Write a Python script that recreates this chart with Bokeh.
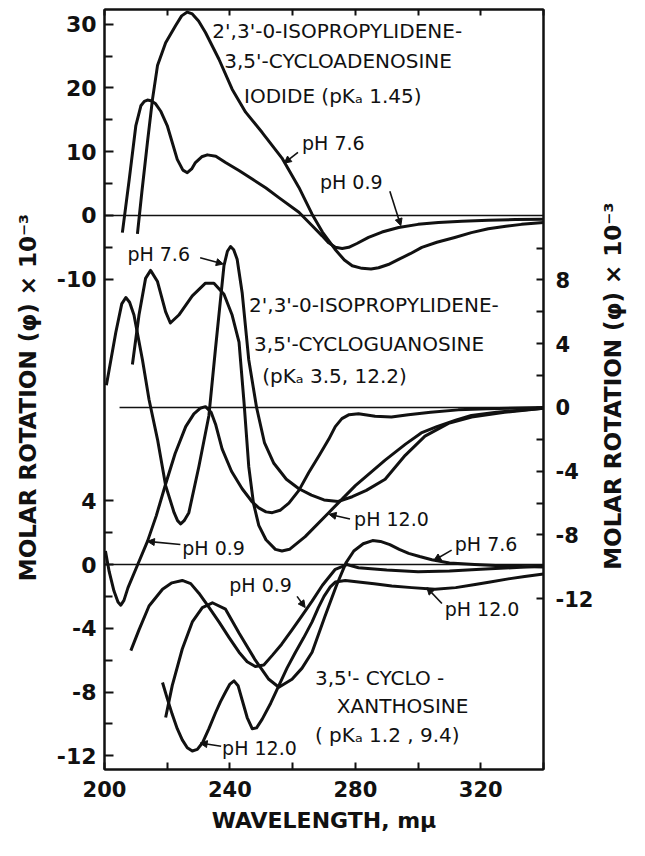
import math
from bokeh.plotting import figure
from bokeh.layouts import row
from bokeh.models import Range1d, LinearAxis, FixedTicker, Label, Arrow, NormalHead
from bokeh.embed import file_html
from bokeh.resources import INLINE

# ---------------- data (wavelength in m-mu, molar rotation x 1e-3) ----------------
# Top panel: 2',3'-O-isopropylidene-3,5'-cycloadenosine iodide
top_wl_76 = [210.5, 211.9, 213.7, 215.3, 216.9, 219.5, 222.7, 224.6, 226.4, 228.0, 230.0, 232.2, 236.5,
             240.7, 245.0, 250.3, 256.6, 262.0, 266.2, 269.5, 273.5, 276.5, 279.0, 282.1, 285.0, 287.4,
             290.5, 293.8, 297.5, 301.2, 306.0, 311.7, 317.0, 322.4, 328.0, 333.0, 340.0]
top_rot_76 = [-2.9, 3.6, 11.5, 18.2, 23.5, 27.1, 29.8, 31.3, 31.9, 31.6, 30.5, 28.7, 24.5,
              19.8, 16.2, 13.0, 9.0, 4.4, 0.2, -2.6, -5.3, -7.0, -7.9, -8.3, -8.4, -8.2,
              -7.7, -6.9, -6.0, -5.0, -4.2, -3.45, -2.7, -2.1, -1.7, -1.4, -1.1]
top_wl_09 = [205.7, 207.9, 210.0, 211.6, 212.7, 213.7, 214.8, 216.3, 218.0, 220.0, 223.2, 225.0, 226.4,
             227.8, 229.0, 231.0, 232.8, 235.5, 238.6, 243.0, 247.1, 251.5, 255.6, 262.0, 266.0, 269.4,
             271.5, 273.6, 275.8, 277.9, 280.5, 284.2, 288.5, 293.8, 300.0, 306.5, 314.0, 322.4, 331.0,
             340.0]
top_rot_09 = [-2.7, 5.7, 14.1, 17.2, 17.9, 18.1, 18.0, 17.5, 16.3, 14.1, 8.8, 7.1, 6.7,
              7.3, 8.3, 9.2, 9.5, 9.3, 8.3, 7.0, 5.7, 4.3, 2.8, 0.5, -1.5, -3.2,
              -4.3, -5.0, -5.2, -5.0, -4.4, -3.45, -2.6, -1.9, -1.4, -1.1, -0.9, -0.75, -0.65,
              -0.6]

# Middle panel: 2',3'-O-isopropylidene-3,5'-cycloguanosine
mid_wl_76 = [200.6, 203.6, 205.5, 206.8, 208.0, 209.4, 212.1, 214.2, 216.9, 219.5, 222.2, 223.3, 224.3,
             225.4, 226.9, 230.1, 233.3, 235.4, 238.1, 239.2, 240.2, 241.2, 242.3, 243.9, 246.0, 248.5,
             251.0, 254.0, 258.0, 262.0, 266.0, 270.0, 274.5, 279.0, 283.5, 289.5, 295.9, 302.2, 309.7,
             317.1, 327.6, 340.0]
mid_rot_76 = [1.4, 4.7, 6.5, 6.9, 6.6, 5.8, 3.0, 0.5, -2.0, -4.9, -6.6, -7.1, -7.3,
              -7.1, -6.6, -3.7, -0.5, 3.7, 8.9, 9.8, 10.1, 9.9, 9.3, 7.2, 3.0, 0.0,
              -2.2, -3.5, -4.5, -5.1, -5.5, -5.8, -5.9, -5.6, -5.2, -4.5, -3.0, -1.8, -1.0,
              -0.6, -0.3, -0.05]
mid_wl_120 = [208.9, 211.0, 213.1, 214.7, 216.9, 219.5, 221.0, 223.7, 228.0, 232.2, 234.9, 238.1, 240.7,
              242.9, 244.5, 246.0, 247.5, 249.2, 251.5, 254.5, 256.6, 259.0, 264.0, 271.5, 276.0, 280.0,
              289.5, 296.0, 301.0, 306.0, 312.0, 317.0, 325.0, 340.0]
mid_rot_120 = [2.7, 5.8, 8.1, 8.6, 7.9, 6.0, 5.3, 5.8, 7.0, 7.8, 7.8, 7.1, 5.8,
               4.1, 0.3, -3.7, -6.0, -7.4, -8.3, -8.9, -9.0, -8.9, -8.1, -6.6, -5.7, -4.9,
               -3.3, -2.3, -1.6, -1.2, -0.8, -0.5, -0.3, -0.05]
mid_wl_09 = [200.3, 201.5, 203.0, 204.3, 205.2, 206.2, 207.5, 210.5, 213.7, 216.5, 219.5, 222.5, 225.9,
             228.5, 230.5, 232.2, 234.0, 235.5, 237.5, 240.5, 243.9, 247.0, 249.2, 251.5, 253.5, 256.0,
             258.8, 262.0, 265.1, 268.5, 271.5, 273.6, 275.7, 278.0, 281.0, 286.3, 291.5, 296.9, 304.0,
             312.8, 322.0, 340.0]
mid_rot_09 = [-9.0, -10.3, -11.5, -12.2, -12.4, -12.1, -11.3, -9.9, -8.4, -6.8, -4.8, -2.9, -1.2,
              -0.4, -0.05, 0.05, -0.3, -1.1, -2.6, -4.0, -5.1, -5.9, -6.3, -6.55, -6.6, -6.45,
              -6.0, -5.2, -4.1, -3.0, -2.0, -1.2, -0.7, -0.45, -0.4, -0.55, -0.6, -0.45, -0.3,
              -0.15, -0.08, 0.0]

# Bottom panel: 3,5'-cycloxanthosine
bot_wl_09 = [208.4, 211.0, 214.2, 218.5, 221.5, 224.8, 227.5, 230.1, 233.0, 236.5, 239.8, 242.9, 245.5,
             248.1, 250.8, 253.5, 256.5, 259.8, 263.0, 266.2, 269.5, 273.6, 277.3, 281.0, 290.0, 300.0,
             310.0, 320.0, 330.0, 340.0]
bot_rot_09 = [-5.4, -4.1, -2.6, -1.55, -1.15, -1.0, -1.2, -1.8, -2.6, -3.6, -4.6, -5.5, -6.1,
              -6.4, -6.3, -5.7, -5.0, -4.1, -3.2, -2.3, -1.3, -0.3, 0.0, -0.2, -0.35, -0.45,
              -0.4, -0.3, -0.2, -0.1]
bot_wl_76 = [219.5, 221.6, 224.8, 228.0, 231.2, 234.4, 238.6, 242.9, 248.1, 252.4, 255.6, 259.8, 263.0,
             266.2, 270.4, 274.0, 277.0, 279.5, 282.5, 285.5, 288.0, 291.0, 294.0, 297.0, 300.5, 304.4,
             310.0, 318.0, 328.0, 340.0]
bot_rot_76 = [-9.6, -7.6, -5.3, -3.6, -2.7, -2.4, -2.8, -4.3, -6.0, -7.2, -7.7, -7.2, -6.5,
              -5.5, -3.2, -1.3, 0.1, 0.85, 1.3, 1.5, 1.45, 1.25, 0.95, 0.7, 0.5, 0.3,
              0.1, 0.0, -0.1, -0.15]
bot_wl_120 = [218.5, 220.0, 221.6, 223.2, 224.8, 226.4, 228.0, 229.6, 231.2, 233.3, 235.4, 237.0, 238.6,
              240.0, 241.3, 242.6, 243.9, 245.5, 247.1, 248.5, 250.3, 253.0, 255.6, 258.2, 260.9, 263.5,
              266.2, 268.2, 270.0, 272.0, 273.6, 276.8, 281.0, 286.0, 291.6, 298.0, 305.4, 312.0, 318.2,
              323.0, 328.8, 334.0, 340.0]
bot_rot_120 = [-7.4, -8.4, -9.4, -10.3, -11.0, -11.5, -11.7, -11.6, -11.2, -10.3, -9.3, -8.6, -8.0,
               -7.5, -7.3, -7.6, -8.5, -9.6, -10.3, -10.25, -9.7, -8.7, -7.6, -6.5, -5.5, -4.6,
               -3.6, -2.7, -2.0, -1.4, -1.1, -1.0, -1.1, -1.2, -1.35, -1.45, -1.55, -1.45, -1.25,
               -1.1, -0.9, -0.75, -0.6]

# zero (reference) lines of each panel
zero_top_x = [200, 340]
zero_mid_x = [204.8, 340]
zero_bot_x = [200, 340]
zero_y = [0, 0]

# ticks
x_ticks = [200, 220, 240, 260, 280, 300, 320, 340]
x_labeled = [200, 240, 280, 320]
top_ticks = [30, 20, 10, 0, -10]
top_minor = [25, 15, 5, -5]
bot_ticks = [4, 0, -4, -8, -12]
bot_minor = [2, -2, -6, -10]
mid_ticks = [8, 4, 0, -4, -8, -12]
mid_minor = [10, 6, 2, -2, -6, -10]

# ---------------- layout of stacked panels on one frame ----------------
T_LO, T_HI = -86.9, 32.3          # main (top panel) range
MID0, BOT0, K = -30.12, -54.75, 2.5

FONT = "DejaVu Sans"
INK = "#111111"
TITLE = "MOLAR  ROTATION  (φ) × 10⁻³"
H = 840

p = figure(width=596, height=H, output_backend="svg", toolbar_location=None,
           x_range=Range1d(200, 340), y_range=Range1d(T_LO, T_HI),
           min_border_left=104, min_border_right=52, min_border_top=9, min_border_bottom=71)
p.extra_y_ranges = {"mid": Range1d((T_LO - MID0) / K, (T_HI - MID0) / K),
                    "bot": Range1d((T_LO - BOT0) / K, (T_HI - BOT0) / K)}
p.xgrid.visible = False
p.ygrid.visible = False
p.outline_line_color = INK
p.outline_line_width = 2
p.background_fill_color = "white"
p.border_fill_color = "white"

def style_axis(ax, size):
    ax.axis_line_width = 2
    ax.axis_line_color = INK
    ax.major_tick_line_width = 2
    ax.minor_tick_line_width = 2
    ax.major_tick_line_color = INK
    ax.minor_tick_line_color = INK
    ax.major_tick_out = 0
    ax.minor_tick_out = 0
    ax.major_label_text_font = FONT
    ax.major_label_text_font_style = "bold"
    ax.major_label_text_font_size = size
    ax.major_label_text_color = INK
    ax.axis_label_text_font = FONT
    ax.axis_label_text_font_style = "bold"
    ax.axis_label_text_color = INK

# left axis: top-panel and bottom-panel scales on one line
left = p.left[0]
bot_pos = [BOT0 + K * v for v in bot_ticks]
bot_minor_pos = [BOT0 + K * v for v in bot_minor]
left.ticker = FixedTicker(ticks=[float(v) for v in top_ticks] + bot_pos,
                          minor_ticks=[float(v) for v in top_minor] + bot_minor_pos)
ov = {float(v): str(v) for v in top_ticks}
for v, pos in zip(bot_ticks, bot_pos):
    ov[pos] = str(v)
left.major_label_overrides = ov
style_axis(left, "22px")
left.major_tick_in = 9
left.minor_tick_in = 8
left.major_label_standoff = 8
left.axis_label = TITLE
left.axis_label_text_font_size = "23px"
left.axis_label_standoff = 13

# right axis: middle panel
right = LinearAxis(y_range_name="mid",
                   ticker=FixedTicker(ticks=mid_ticks, minor_ticks=mid_minor))
right.major_label_overrides = {float(v): str(v) for v in mid_ticks}
style_axis(right, "21px")
right.major_tick_in = 7
right.minor_tick_in = 7
right.major_label_standoff = 12
p.add_layout(right, "right")

# bottom axis
bottom = p.below[0]
bottom.ticker = FixedTicker(ticks=x_ticks, minor_ticks=[])
bottom.major_label_overrides = {float(v): (str(v) if v in x_labeled else "") for v in x_ticks}
style_axis(bottom, "21px")
bottom.major_tick_in = 7
bottom.major_label_standoff = 11
bottom.axis_label = "WAVELENGTH, mμ"
bottom.axis_label_text_font_size = "22px"
bottom.axis_label_standoff = 8

# top axis: ticks only
top = LinearAxis(ticker=FixedTicker(ticks=x_ticks, minor_ticks=[]))
top.major_label_overrides = {float(v): "" for v in x_ticks}
style_axis(top, "1px")
top.major_tick_in = 6
top.major_label_standoff = 0
p.add_layout(top, "above")

# ---------------- curves ----------------
LW = 3
for xs, yr in [(zero_top_x, "default"), (zero_mid_x, "mid"), (zero_bot_x, "bot")]:
    p.line(xs, zero_y, y_range_name=yr, line_color=INK, line_width=1.6)

p.line(top_wl_76, top_rot_76, line_color=INK, line_width=LW, line_join="round")
p.line(top_wl_09, top_rot_09, line_color=INK, line_width=LW, line_join="round")
for xs, ys in [(mid_wl_76, mid_rot_76), (mid_wl_120, mid_rot_120), (mid_wl_09, mid_rot_09)]:
    p.line(xs, ys, y_range_name="mid", line_color=INK, line_width=LW, line_join="round")
for xs, ys in [(bot_wl_09, bot_rot_09), (bot_wl_76, bot_rot_76), (bot_wl_120, bot_rot_120)]:
    p.line(xs, ys, y_range_name="bot", line_color=INK, line_width=LW, line_join="round")

# ---------------- annotations ----------------
def txt(x, y, s, yr="default", size="20px"):
    p.add_layout(Label(x=x, y=y, text=s, y_range_name=yr, text_font=FONT, text_font_size=size,
                       text_align="left", text_baseline="middle", text_color=INK))

def arrow(x0, y0, x1, y1, yr="default"):
    p.add_layout(Arrow(x_start=x0, y_start=y0, x_end=x1, y_end=y1, y_range_name=yr,
                       line_color=INK, line_width=1.6,
                       end=NormalHead(size=7, fill_color=INK, line_color=INK, line_width=1)))

# compound names
txt(234.4, 28.9, "2',3'-0-ISOPROPYLIDENE-")
txt(238.2, 24.2, "3,5'-CYCLOADENOSINE")
txt(244.5, 18.7, "IODIDE  (pKₐ  1.45)")

txt(246.1, 6.45, "2',3'-0-ISOPROPYLIDENE-", "mid")
txt(247.7, 4.0, "3,5'-CYCLOGUANOSINE", "mid")
txt(250.3, 1.95, "(pKₐ 3.5,  12.2)", "mid")

txt(267.1, -7.1, "3,5'- CYCLO -", "bot")
txt(274.1, -8.9, "XANTHOSINE", "bot")
txt(267.1, -10.7, "( pKₐ 1.2 , 9.4)", "bot")

# pH labels with pointers
txt(263.0, 11.3, "pH  7.6", size="19px")
arrow(261.7, 9.9, 257.3, 8.2)
txt(268.7, 5.2, "pH  0.9", size="19px")
arrow(291.0, 3.8, 294.5, -1.6)

txt(207.3, 9.6, "pH  7.6", "mid", size="19px")
arrow(230.5, 9.4, 237.9, 9.0, "mid")
txt(279.6, -7.0, "pH  12.0", "mid", size="19px")
arrow(278.3, -7.0, 271.6, -6.7, "mid")
txt(224.8, -8.8, "pH  0.9", "mid", size="19px")
arrow(224.2, -8.6, 213.7, -8.4, "mid")

txt(239.8, -1.3, "pH  0.9", "bot", size="19px")
arrow(261.4, -2.0, 264.0, -2.7, "bot")
txt(311.7, 1.3, "pH  7.6", "bot", size="19px")
arrow(310.7, 0.9, 305.0, 0.25, "bot")
txt(308.5, -2.8, "pH  12.0", "bot", size="19px")
arrow(307.6, -2.45, 302.8, -1.45, "bot")
txt(237.5, -11.5, "pH  12.0", "bot", size="19px")
arrow(237.2, -11.4, 230.5, -11.2, "bot")

# ---------------- right-hand title strip (reads bottom-to-top) ----------------
side = figure(width=33, height=H, output_backend="svg", toolbar_location=None,
              x_range=Range1d(0, 1), y_range=Range1d(0, 1),
              x_axis_location=None, y_axis_location=None, min_border=0)
side.xgrid.visible = False
side.ygrid.visible = False
side.outline_line_color = None
side.background_fill_color = "white"
side.border_fill_color = "white"
side.add_layout(Label(x=0.5, y=0.515, text=TITLE, angle=math.pi / 2, text_align="center",
                      text_baseline="middle", text_font=FONT, text_font_size="23px",
                      text_font_style="bold", text_color=INK))

open("out.html", "w").write(file_html(row(p, side, spacing=0), INLINE))
